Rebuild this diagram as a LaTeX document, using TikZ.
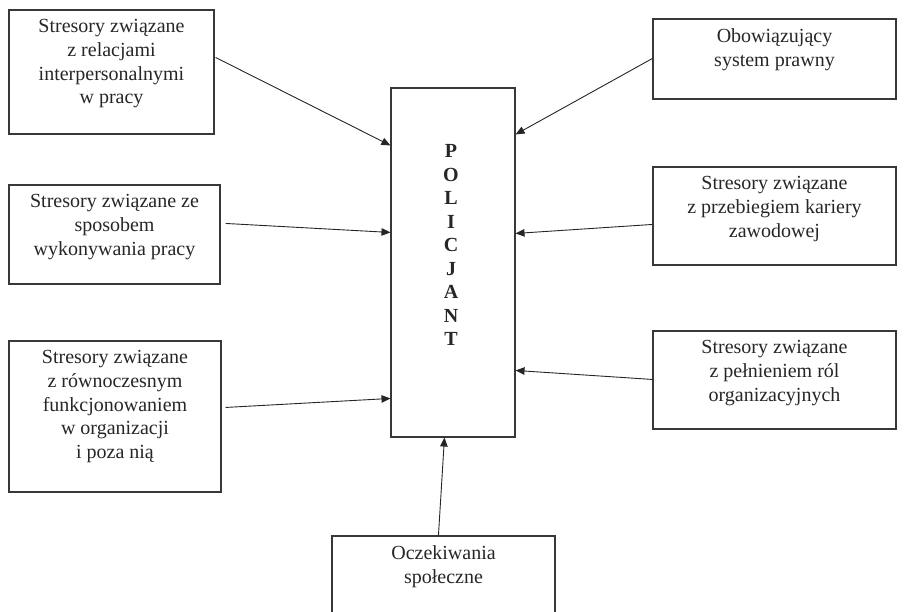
\documentclass[tikz,border=0pt]{standalone}
\usepackage{fontspec}
\setmainfont{Liberation Serif}
\usetikzlibrary{arrows.meta,calc}
\begin{document}
\begin{tikzpicture}[x=1pt,y=-1pt,
  box/.style={draw=black!78,line width=1.1pt,rectangle,inner sep=0pt},
  lbl/.style={anchor=north,align=center,inner sep=0pt,text=black!85,font=\fontsize{20}{23.7}\selectfont},
  arr/.style={draw=black!85,line width=0.9pt,-{Triangle[length=9pt,width=7.5pt]}}]
\useasboundingbox (0,0) rectangle (904,612);
\clip (0,0) rectangle (904,612);
% boxes
\node[box,minimum width=205pt,minimum height=124pt] (b1) at (111.5,72) {};
\node[box,minimum width=211pt,minimum height=99pt] (b2) at (114.5,234.5) {};
\node[box,minimum width=212pt,minimum height=151pt] (b3) at (115,416.5) {};
\node[box,minimum width=124pt,minimum height=349pt] (pol) at (453,262.5) {};
\node[box,minimum width=243pt,minimum height=80pt] (b5) at (774.5,59) {};
\node[box,minimum width=243pt,minimum height=98pt] (b6) at (774.5,216) {};
\node[box,minimum width=243pt,minimum height=98pt] (b7) at (774.5,380) {};
\node[box,minimum width=223pt,minimum height=104pt] (b8) at (443.5,588) {};
% texts
\node[lbl] (t1) at ($(b1.north)+(0,10)$) {Stresory związane\\z relacjami\\interpersonalnymi\\w pracy};
\node[lbl] (t2) at ($(b2.north)+(0,10)$) {Stresory związane ze\\sposobem\\wykonywania pracy};
\node[lbl] (t3) at ($(b3.north)+(0,10)$) {Stresory związane\\z równoczesnym\\funkcjonowaniem\\w organizacji\\i poza nią};
\node[lbl] (t5) at ($(b5.north)+(0,10)$) {Obowiązujący\\system prawny};
\node[lbl] (t6) at ($(b6.north)+(0,10)$) {Stresory związane\\z przebiegiem kariery\\zawodowej};
\node[lbl] (t7) at ($(b7.north)+(0,10)$) {Stresory związane\\z pełnieniem ról\\organizacyjnych};
\node[lbl] (t8) at ($(b8.north)+(0,10)$) {Oczekiwania\\społeczne};
\node[lbl,font=\fontsize{20}{23.5}\selectfont\bfseries] (tp) at ($(pol.north)+(-2,57)$) {P\\O\\L\\I\\C\\J\\A\\N\\T};
% arrows
\draw[arr] ($(b1.north east)+(1,48)$) -- ($(pol.north west)+(0,58)$);
\draw[arr] ($(b2.north east)+(5,39)$) -- ($(pol.north west)+(0,145)$);
\draw[arr] ($(b3.north east)+(4,67)$) -- ($(pol.north west)+(0,311)$);
\draw[arr] ($(b5.north west)+(0,40)$) -- ($(pol.north east)+(0,47)$);
\draw[arr] ($(b6.north west)+(0,58)$) -- ($(pol.north east)+(0,146)$);
\draw[arr] ($(b7.north west)+(0,49)$) -- ($(pol.north east)+(0,283)$);
\draw[arr] ($(b8.north west)+(107,0)$) -- ($(pol.south west)+(54,0)$);
\end{tikzpicture}
\end{document}
